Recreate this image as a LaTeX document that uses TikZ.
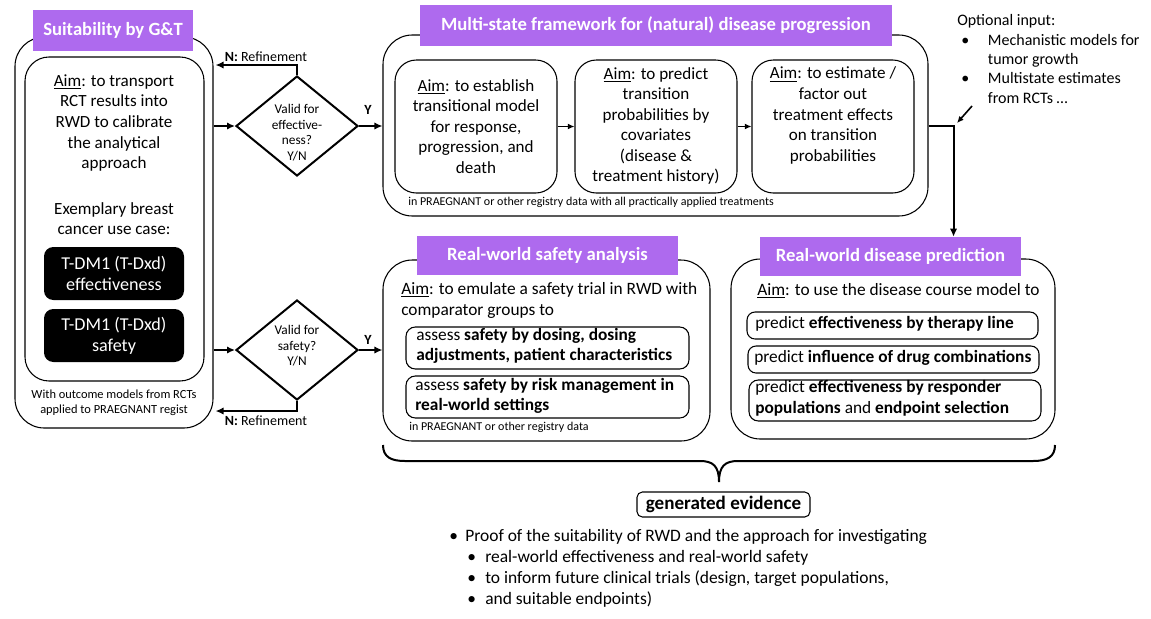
\documentclass[tikz,border=0pt]{standalone}
\usepackage{fontspec}
\setmainfont{Carlito}
\usetikzlibrary{shapes.geometric,arrows.meta,calc}
\definecolor{titlepurple}{RGB}{174,106,238}
\newcommand\fsz[2]{\fontsize{#1}{#2}\selectfont}
\begin{document}
\begin{tikzpicture}[
  x=0.75pt, y=-0.75pt,
  wh/.style 2 args={minimum width=#1*0.75pt, minimum height=#2*0.75pt},
  bigbox/.style={draw, line width=0.8pt, rounded corners=22pt, inner sep=0pt},
  inbox/.style={draw, line width=0.8pt, rounded corners=16pt, inner sep=0pt},
  smallbox/.style={draw, line width=0.8pt, rounded corners=6pt, inner sep=0pt},
  blackbox/.style={fill=black, rounded corners=7pt, text=white, inner sep=0pt, font=\fsz{13.6}{15.6}, align=center},
  titlebox/.style={fill=titlepurple, text=white, font=\bfseries\fsz{14}{17}, inner sep=0pt},
  diam/.style={diamond, draw, line width=1.5pt, inner sep=0pt},
  body/.style={font=\fsz{12.8}{15.4}, align=center, inner sep=0pt},
  bodyl/.style={font=\fsz{13}{15.4}, align=left, inner sep=0pt, anchor=west},
  dtext/.style={font=\fsz{10}{11.7}, align=center, inner sep=0pt},
  lbl/.style={font=\fsz{10.5}{12}, inner sep=0pt},
  foot/.style={font=\fsz{9}{10}, inner sep=0pt, anchor=west},
  conn/.style={line width=1.5pt, -{Latex[length=6pt,width=5.5pt]}},
  thinconn/.style={line width=0.9pt, -{Latex[length=5pt,width=4.5pt]}}
]
\useasboundingbox (0,0) rectangle (1151,618);

% ---------- Suitability by G&T ----------
\node[bigbox, wh={198}{391}] (lo) at (114,232.5) {};
\node[titlebox, wh={160}{41}] (lot) at (113,30.5) {Suitability by G\&T};
\node[inbox, rounded corners=18pt, wh={179}{324}] (li) at (114.5,219) {};
\node[body] (laim) at (114,123) {\underline{Aim}: to transport\\RCT results into\\RWD to calibrate\\the analytical\\approach};
\node[body] (lex) at (114,218.5) {Exemplary breast\\cancer use case:};
\node[blackbox, wh={140}{53}] (bk1) at (114,273.5) {T-DM1 (T-Dxd)\\effectiveness};
\node[blackbox, wh={140}{53}] (bk2) at (114,335.5) {T-DM1 (T-Dxd)\\safety};
\node[font=\fsz{9.3}{11.3}, align=center, inner sep=0pt] (lfoot) at (114,402.5) {With outcome models from RCTs\\applied to PRAEGNANT regist};

% ---------- Diamonds ----------
\node[diam, wh={122}{100}] (d1) at (297,126) {};
\node[dtext] (d1t) at (297,132.5) {Valid for\\effective-\\ness?\\Y/N};
\node[diam, wh={122}{100}] (d2) at (297,350) {};
\node[dtext] (d2t) at (297,346) {Valid for\\safety?\\Y/N};

% ---------- Multi-state framework ----------
\node[bigbox, wh={545}{181}] (ms) at (655.5,125.5) {};
\node[titlebox, wh={472}{41}] (mst) at (656,25.5) {Multi-state framework for (natural) disease progression};
\node[inbox, wh={162}{133}] (b1) at (476,126.5) {};
\node[inbox, wh={162}{133}] (b2) at (656,126.5) {};
\node[inbox, wh={162}{133}] (b3) at (833,126.5) {};
\node[body] (b1t) at (476,126.5) {\underline{Aim}: to establish\\transitional model\\for response,\\progression, and\\death};
\node[body] (b2t) at (656,126) {\underline{Aim}: to predict\\transition\\probabilities by\\covariates\\(disease \&\\treatment history)};
\node[body] (b3t) at (833,115.5) {\underline{Aim}: to estimate /\\factor out\\treatment effects\\on transition\\probabilities};
\node[foot] (msfoot) at (408,202) {in PRAEGNANT or other registry data with all practically applied treatments};

% ---------- Optional input ----------
\node[font=\fsz{12}{14.6}, align=left, inner sep=0pt, anchor=west] (opt) at (957,59) {Optional input:\\
\makebox[23pt][l]{\hspace{3pt}•}Mechanistic models for\\
\hspace*{23pt}tumor growth\\
\makebox[23pt][l]{\hspace{3pt}•}Multistate estimates\\
\hspace*{23pt}from RCTs \dots};
\coordinate (oa) at (972,106);
\coordinate (ob) at (957,123);

% ---------- Real-world safety analysis ----------
\node[bigbox, wh={327}{181}] (sa) at (546.5,350.5) {};
\node[titlebox, wh={261}{39}] (sat) at (547.5,255.5) {Real-world safety analysis};
\node[bodyl] (saaim) at (401,300.5) {\underline{Aim}: to emulate a safety trial in RWD with\\comparator groups to};
\node[smallbox, rounded corners=7pt, wh={283}{42}] (sa1) at (547.5,348) {};
\node[bodyl] (sa1t) at (416,346) {assess \textbf{safety by dosing, dosing}\\\textbf{adjustments, patient characteristics}};
\node[smallbox, rounded corners=7pt, wh={283}{42}] (sa2) at (547.5,397) {};
\node[bodyl] (sa2t) at (415,396) {assess \textbf{safety by risk management in}\\\textbf{real-world settings}};
\node[foot] (safoot) at (409,427) {in PRAEGNANT or other registry data};

% ---------- Real-world disease prediction ----------
\node[bigbox, wh={324}{180}] (rd) at (893,349) {};
\node[titlebox, wh={261}{39}] (rdt) at (890.5,256.5) {Real-world disease prediction};
\node[bodyl] (rdaim) at (757,291) {\underline{Aim}: to use the disease course model to};
\node[smallbox, wh={291}{27}] (rd1) at (892.5,325.5) {};
\node[bodyl] (rd1t) at (755,324) {predict \textbf{effectiveness by therapy line}};
\node[smallbox, wh={291}{27}] (rd2) at (893.5,359.5) {};
\node[bodyl] (rd2t) at (754,358) {predict \textbf{influence of drug combinations}};
\node[smallbox, rounded corners=7pt, wh={292}{41}] (rd3) at (895,400.5) {};
\node[bodyl] (rd3t) at (755,398) {predict \textbf{effectiveness by responder}\\\textbf{populations} and \textbf{endpoint selection}};

% ---------- Brace and evidence ----------
\coordinate (brl) at (383,445);
\coordinate (brt) at (719,482);
\coordinate (brr) at (1055,445);
\draw[line width=1.5pt] (brl) .. controls (383,457) and (391,461) .. (405,461) -- (700,461)
  .. controls (713,461) and (719,466) .. (brt)
  .. controls (719,466) and (725,461) .. (738,461) -- (1033,461)
  .. controls (1047,461) and (1055,457) .. (brr);
\node[draw, line width=0.8pt, rounded corners=4pt, inner sep=0pt, wh={173}{25}, font=\bfseries\fsz{14.3}{16}] (ge) at (723.5,504.5) {generated evidence};
\node[font=\fsz{13.1}{15.75}, align=left, inner sep=0pt, anchor=west] (ev) at (449,568.5) {\makebox[12pt][l]{•}Proof of the suitability of RWD and the approach for investigating\\
\hspace*{13.5pt}\makebox[13.5pt][l]{•}real-world effectiveness and real-world safety\\
\hspace*{13.5pt}\makebox[13.5pt][l]{•}to inform future clinical trials (design, target populations,\\
\hspace*{13.5pt}\makebox[13.5pt][l]{•}and suitable endpoints)};

% ---------- Connector labels ----------
\node[lbl] (n1) at (266,57) {\textbf{N:} Refinement};
\node[lbl] (n2) at (266,421) {\textbf{N:} Refinement};
\node[lbl, font=\bfseries\fsz{10.5}{12}] (y1) at (368,110) {Y};
\node[lbl, font=\bfseries\fsz{10.5}{12}] (y2) at (368,340) {Y};

% ---------- Connectors ----------
\draw[conn] (lo.east |- d1) -- (d1.west);
\draw[conn] (lo.east |- d2) -- (d2.west);
\draw[conn] (d1.east) -- (d1.east -| ms.west);
\draw[conn] (d2.east) -- (d2.east -| sa.west);
\draw[conn] (d1.north) -- ++(0,-10) coordinate (r1) -- ($(r1 -| lo.east)+(2,0)$);
\draw[conn] (d2.south) -- ++(0,10) coordinate (r2) -- ($(r2 -| lo.east)+(2,0)$);
\draw[thinconn] (b1.east) -- (b2.west);
\draw[thinconn] (b2.east) -- (b3.west);
\draw[conn] (ms.east) -- ++(25,0) coordinate (c1) -- (c1 |- rdt.north);
\draw[thinconn, line width=1.2pt] (oa) -- (ob);
\end{tikzpicture}
\end{document}
